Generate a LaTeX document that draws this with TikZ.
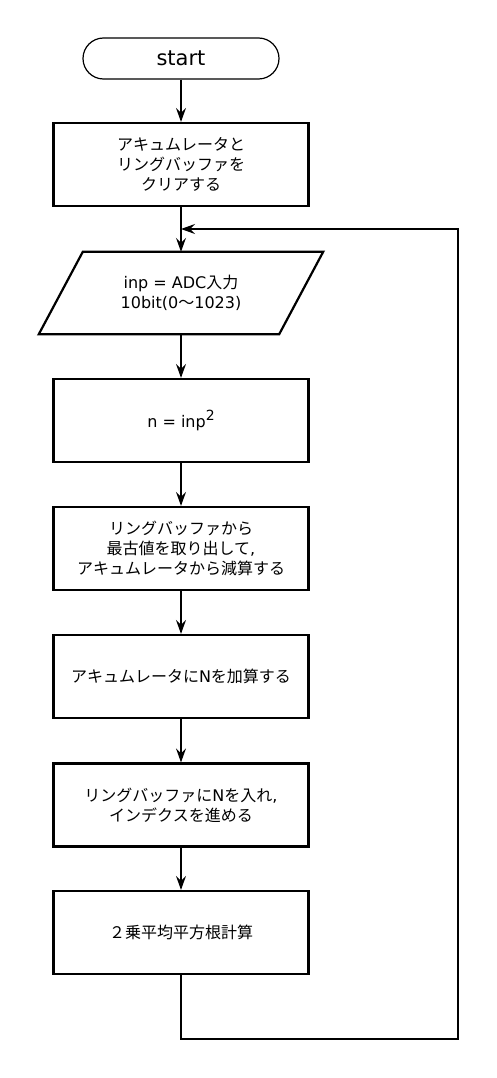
\documentclass[tikz,border=0pt]{standalone}
\usepackage{fontspec}
\setmainfont{DejaVu Sans}
\newfontfamily\jp{Noto Sans CJK JP}
\usetikzlibrary{arrows.meta}
\begin{document}
\begin{tikzpicture}[x=1pt,y=-1pt,
  every node/.style={font=\fontsize{16}{20}\selectfont, align=center, inner sep=0pt},
  procbox/.style={draw, line width=2.2pt, minimum width=255pt, minimum height=83pt},
  termbox/.style={draw, line width=1.2pt, rounded corners=20.5pt, minimum width=196pt, minimum height=41pt, font=\fontsize{21}{24}\selectfont},
  iobox/.style={minimum width=284pt, minimum height=82pt},
  conn/.style={line width=1.2pt, -{Stealth[length=14pt,width=10pt,inset=5pt]}},
  plainline/.style={line width=1.2pt}
]
\useasboundingbox (0,0) rectangle (497,1078);
\node[termbox] (start) at (181,58.5) {start};
\node[procbox] (clr) at (181,164.5) {{\jp アキュムレータと}\\{\jp リングバッファを}\\{\jp クリアする}};
\node[iobox] (inp) at (181,293) {inp = ADC{\jp 入力}\\10bit(0{\jp ～}1023)};
\draw[line width=2.2pt, line join=miter] (inp.south west) -- ([xshift=44pt]inp.north west) -- (inp.north east) -- ([xshift=-44pt]inp.south east) -- cycle;
\node[procbox] (sq) at (181,420.5) {n = inp\raisebox{7pt}{\fontsize{14}{14}\selectfont 2}};
\node[procbox] (sub) at (181,548.5) {{\jp リングバッファから}\\{\jp 最古値を取り出して}{,}\\{\jp アキュムレータから減算する}};
\node[procbox] (add) at (181,676.5) {{\jp アキュムレータに}N{\jp を加算する}};
\node[procbox] (push) at (181,805) {{\jp リングバッファに}N{\jp を入れ}{,}\\{\jp インデクスを進める}};
\node[procbox] (rms) at (181,932.5) {{\jp ２乗平均平方根計算}};
\coordinate (merge) at (181,229);
\coordinate (c1) at (181,1039);
\coordinate (c2) at (458,229);
\draw[conn] (start) -- (clr);
\draw[conn] (clr) -- (inp);
\draw[conn] (inp) -- (sq);
\draw[conn] (sq) -- (sub);
\draw[conn] (sub) -- (add);
\draw[conn] (add) -- (push);
\draw[conn] (push) -- (rms);
\draw[conn] (rms.south) -- (c1) -| (c2) -- (merge);
\end{tikzpicture}
\end{document}
